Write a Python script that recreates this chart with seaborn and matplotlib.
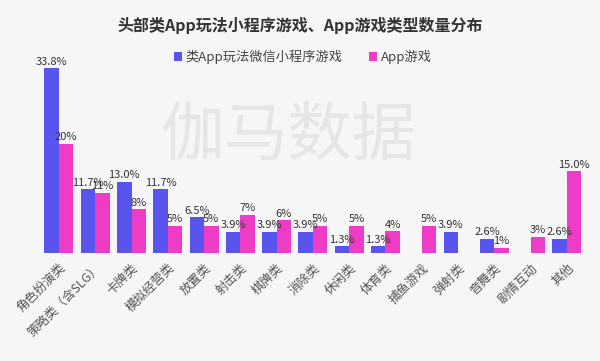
import pandas as pd
import matplotlib
matplotlib.use('Agg')
import matplotlib.pyplot as plt
import seaborn as sns

# data
categories = ['角色扮演类', '策略类（含SLG）', '卡牌类', '模拟经营类', '放置类', '射击类', '棋牌类',
              '消除类', '休闲类', '体育类', '捕鱼游戏', '弹射类', '音舞类', '剧情互动', '其他']
mini_vals = [33.8, 11.7, 13.0, 11.7, 6.5, 3.9, 3.9, 3.9, 1.3, 1.3, 0, 3.9, 2.6, 0, 2.6]
app_vals = [20, 11, 8, 5, 5, 7, 6, 5, 5, 4, 5, 0, 1, 3, 15.0]
mini_labels = ['33.8%', '11.7%', '13.0%', '11.7%', '6.5%', '3.9%', '3.9%', '3.9%', '1.3%', '1.3%',
               '', '3.9%', '2.6%', '', '2.6%']
app_labels = ['20%', '11%', '8%', '5%', '5%', '7%', '6%', '5%', '5%', '4%', '5%', '', '1%', '3%', '15.0%']
series = ['类App玩法微信小程序游戏', 'App游戏']

df = pd.DataFrame({
    'cat': categories * 2,
    'val': mini_vals + app_vals,
    'series': [series[0]] * len(categories) + [series[1]] * len(categories),
})

sns.set_theme(style='white')
plt.rcParams['font.family'] = ['Noto Sans CJK SC', 'DejaVu Sans']

fig = plt.figure(figsize=(6, 3.61), dpi=100, facecolor='#f6f6f6')
ax = fig.add_axes([0.068, 0.299, 0.907, 0.546])
ax.set_facecolor('none')

# watermark
fig.text(0.48, 0.62, '伽马数据', fontsize=46, color='#e6e6e6', ha='center', va='center', zorder=0)

sns.barplot(data=df, x='cat', y='val', hue='series', hue_order=series,
            palette=['#5a54ee', '#ee3cc6'], saturation=1, width=0.8, linewidth=0,
            ax=ax, legend=True, zorder=2)

for cont, labs in zip(ax.containers, [mini_labels, app_labels]):
    ax.bar_label(cont, labels=labs, padding=1, fontsize=8, color='#333333')

ax.set_xlim(-0.5, len(categories) - 0.5)
ax.set_ylim(0, 36)
ax.set_xlabel('')
ax.set_ylabel('')
ax.set_yticks([])
for s in ax.spines.values():
    s.set_visible(False)
ax.tick_params(axis='x', length=0, pad=6)
plt.setp(ax.get_xticklabels(), rotation=45, ha='right', rotation_mode='anchor',
         fontsize=9, color='#555555')

leg = ax.legend(loc='center', bbox_to_anchor=(0.505, 0.842), bbox_transform=fig.transFigure,
                ncol=2, frameon=False, fontsize=9.5, handlelength=0.6, handleheight=0.6,
                handletextpad=0.3, columnspacing=2.0, labelcolor='#444444')

fig.text(0.5, 0.93, '头部类App玩法小程序游戏、App游戏类型数量分布', ha='center', va='center',
         fontsize=11.5, fontweight='bold', color='#333333')

fig.savefig('out.png', dpi=100, facecolor=fig.get_facecolor())
